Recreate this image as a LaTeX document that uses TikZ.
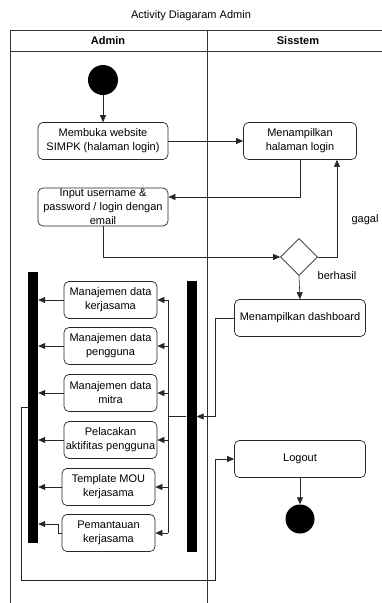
\documentclass[tikz,border=0pt]{standalone}
\usepackage{fontspec}
\setmainfont{Liberation Sans}
\usetikzlibrary{arrows.meta,shapes.geometric,calc,positioning}

\begin{document}
\begin{tikzpicture}[x=1pt,y=-1pt,
    act/.style={draw=black!85, rounded corners=5pt, line width=0.7pt, minimum height=37pt, inner sep=0pt, align=center, font=\fontsize{11}{14}\selectfont},
    flow/.style={-{Triangle[length=7pt,width=6pt]}, line width=0.6pt, black!85},
    lane/.style={line width=0.7pt, black!80},
    bar/.style={fill=black, draw=none, minimum width=10pt, minimum height=271pt, inner sep=0pt},
    dot/.style={circle, fill=black, inner sep=0pt}
  ]
    \useasboundingbox (0,0) rectangle (382,603);
    % Dimensions of the swimlanes
    \def\lx{10}
    \def\mx{207}
    \def\rx{382}
    \def\ty{30}
    \def\hy{51}

    % Swimlanes (open at the bottom and on the right)
    \draw[lane] (\rx,\ty) -- (\lx,\ty) -- (\lx,603);
    \draw[lane] (\lx,\hy) -- (\rx,\hy);
    \draw[lane] (\mx,\ty) -- (\mx,603);
    \node[font=\fontsize{11}{13}\selectfont] (title) at (191,16) {Activity Diagaram Admin};
    \node[font=\fontsize{11}{13}\selectfont\bfseries] (hadmin) at (108,41) {Admin};
    \node[font=\fontsize{11}{13}\selectfont\bfseries] (hsys) at (298,41) {Sisstem};

    % Login part
    \node[dot, minimum size=30pt] (start) at (103,80) {};
    \node[act, minimum width=130pt] (web) at (103,141) {Membuka website\\SIMPK (halaman login)};
    \node[act, minimum width=113pt] (page) at (300,141) {Menampilkan\\halaman login};
    \node[act, minimum width=130pt, minimum height=38pt] (input) at (103,207) {Input username \&\\password / login dengan\\email};
    \node[diamond, draw=black!85, line width=0.7pt, minimum width=37pt, minimum height=37pt, inner sep=0pt] (cek) at (299,257) {};
    \node[font=\fontsize{11}{13}\selectfont] (gagal) at (365,220) {gagal};
    \node[font=\fontsize{11}{13}\selectfont] (berhasil) at (337,276) {berhasil};
    \node[act, minimum width=131pt] (dash) at (300,318) {Menampilkan dashboard};

    % Fork bars
    \node[bar] (lbar) at (33,407.5) {};
    \node[bar] (rbar) at (191.5,416.5) {};

    % Menu activities
    \foreach \i/\xx/\yy/\txt in {1/110.5/300/{Manajemen data\\kerjasama},
                                2/110.5/346/{Manajemen data\\pengguna},
                                3/110.5/393/{Manajemen data\\mitra},
                                4/110.5/440/{Pelacakan\\aktifitas pengguna},
                                5/108.5/487/{Template MOU\\kerjasama},
                                6/108.5/533/{Pemantauan\\kerjasama}} {
      \node[act, minimum width=93pt] (m\i) at (\xx,\yy) {\txt};
    }

    % Logout part
    \node[act, minimum width=131pt] (logout) at (300,459) {Logout};
    \node[dot, minimum size=29pt] (stop) at (300,519) {};

    % Connectors of the login part
    \draw[flow] (start) -- (web);
    \draw[flow] (web) -- (page);
    \draw[flow] (page.south) |- ([yshift=10pt]input.east);
    \draw[flow] (input.south) |- (cek.west);
    \draw[flow] (cek.east) -| ([xshift=37pt]page.south);
    \draw[flow] (cek.south) -- (dash.north);
    \draw[flow] (dash.west) -- ++(-19,0) |- (rbar.east);

    % Right bar to every menu activity
    \draw[line width=0.6pt, black!85] (rbar.west) -- ++(-18,0) coordinate (rj);
    \draw[line width=0.6pt, black!85] (rj |- m1.east) -- (rj |- m6.east);
    \foreach \i in {1,...,6} {
      \draw[flow] (rj |- m\i.east) -- (m\i.east);
    }

    % Menu activities to left bar
    \foreach \i in {1,...,5} {
      \draw[flow] (m\i.west) -- (lbar.east |- m\i.west);
    }
    \draw[flow] (m6.west) -- ++(-3,0) |- ($(lbar.east |- m6.west)+(0,-9)$);

    % Left bar to logout
    \draw[flow] (lbar.west) -- ++(-7,0) -- ++(0,173) -| ($(logout.west)+(-19,0)$) -- (logout.west);
    \draw[flow] (logout) -- (stop);
  \end{tikzpicture}
\end{document}
